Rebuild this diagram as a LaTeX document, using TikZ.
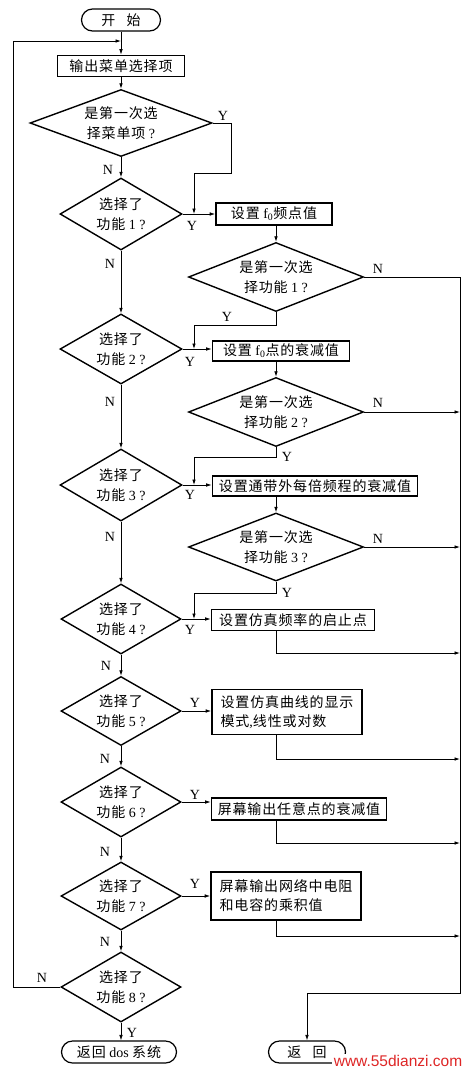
\documentclass[tikz,border=0pt]{standalone}
\usepackage{fontspec}
\setmainfont{Liberation Serif}
\newfontfamily\cjk[LetterSpace=6]{Noto Sans CJK SC}
\newfontfamily\wmfont{Liberation Sans}
\usetikzlibrary{shapes.geometric,shapes.misc,arrows.meta,calc}
\newcommand{\zh}[1]{{\cjk #1}}
\definecolor{wmred}{RGB}{222,38,38}
\begin{document}
\begin{tikzpicture}[x=1pt,y=-1pt,
  every node/.style={font=\fontsize{14}{20}\selectfont},
  line/.style={line width=0.8pt},
  conn/.style={line width=0.8pt,-{Latex[length=5.5pt,width=3.6pt]}},
  dec/.style={draw,diamond,line width=1.4pt,inner sep=0pt},
  dtext/.style={align=center,inner sep=0pt,font=\fontsize{14}{20}\selectfont},
  stepbox/.style={draw,rectangle,line width=1.6pt,inner xsep=4pt,inner ysep=2pt,minimum height=21},
  term/.style={draw,rounded rectangle,line width=1.2pt,minimum height=22,inner sep=2pt},
  lbl/.style={inner sep=0pt,font=\fontsize{14}{16}\selectfont},
  wm/.style={fill=white,text=wmred,inner xsep=2pt,inner ysep=1pt,font=\wmfont\fontsize{15.5}{17}\selectfont}
]
\useasboundingbox (0,0) rectangle (468,1072);
% left column
\node[term,minimum width=83] (start) at (121,20) {\zh{开\hspace{0.8em}始}};
\node[stepbox,minimum width=127] (b0) at (121,66) {\zh{输出菜单选择项}};
\node[dec,minimum width=182,minimum height=67,label={[dtext]center:{\zh{是第一次选}\\\zh{择菜单项} ?}}] (d1) at (121,123) {};
\node[dec,minimum width=122,minimum height=72,label={[dtext]center:{\zh{选择了}\\\zh{功能} 1 ?}}] (d2) at (121,214) {};
\node[dec,minimum width=122,minimum height=70,label={[dtext]center:{\zh{选择了}\\\zh{功能} 2 ?}}] (d4) at (121,349) {};
\node[dec,minimum width=122,minimum height=72,label={[dtext]center:{\zh{选择了}\\\zh{功能} 3 ?}}] (d6) at (121,485) {};
\node[dec,minimum width=120,minimum height=70,label={[dtext]center:{\zh{选择了}\\\zh{功能} 4 ?}}] (d8) at (121,619) {};
\node[dec,minimum width=120,minimum height=69,label={[dtext]center:{\zh{选择了}\\\zh{功能} 5 ?}}] (d9) at (121,711) {};
\node[dec,minimum width=120,minimum height=70,label={[dtext]center:{\zh{选择了}\\\zh{功能} 6 ?}}] (d10) at (121,802) {};
\node[dec,minimum width=120,minimum height=68,label={[dtext]center:{\zh{选择了}\\\zh{功能} 7 ?}}] (d11) at (121,896) {};
\node[dec,minimum width=120,minimum height=70,label={[dtext]center:{\zh{选择了}\\\zh{功能} 8 ?}}] (d12) at (121,987) {};
\node[term,minimum width=119] (end1) at (119,1052) {\zh{返回} dos \zh{系统}};
% right column
\node[stepbox,minimum width=116,minimum height=22] (f1) at (274,214) {\zh{设置} f\textsubscript{0}\zh{频点值}};
\node[dec,minimum width=175,minimum height=69,label={[dtext]center:{\zh{是第一次选}\\\zh{择功能} 1 ?}}] (d3) at (276,277) {};
\node[stepbox,minimum width=137,minimum height=20] (f2) at (281,351) {\zh{设置} f\textsubscript{0}\zh{点的衰减值}};
\node[dec,minimum width=175,minimum height=69,label={[dtext]center:{\zh{是第一次选}\\\zh{择功能} 2 ?}}] (d5) at (276,412) {};
\node[stepbox,minimum width=205,minimum height=20] (f3) at (315,486) {\zh{设置通带外每倍频程的衰减值}};
\node[dec,minimum width=175,minimum height=68,label={[dtext]center:{\zh{是第一次选}\\\zh{择功能} 3 ?}}] (d7) at (276,547) {};
\node[stepbox,minimum width=163] (f4) at (293,620) {\zh{设置仿真频率的启止点}};
\node[stepbox,minimum width=150,minimum height=45,align=left,font=\fontsize{14}{19}\selectfont] (f5) at (287,712) {\zh{设置仿真曲线的显示}\\\zh{模式},\zh{线性或对数}};
\node[stepbox,minimum width=175,minimum height=22] (f6) at (299,809) {\zh{屏幕输出任意点的衰减值}};
\node[stepbox,minimum width=150,minimum height=48,align=left,font=\fontsize{14}{19}\selectfont] (f7) at (286,896) {\zh{屏幕输出网络中电阻}\\\zh{和电容的乘积值}};
\node[term,minimum width=81] (end2) at (307,1052) {\zh{返\hspace{0.8em}回}};
% helper coordinates
\coordinate (jx) at (194,0);
\coordinate (bus) at (460,0);
\coordinate (c1) at (231,173);
\coordinate (c9) at (460,993);
\coordinate (loop) at (13,41);
% main flow
\draw[conn] (start.south) -- (b0.north);
\draw[conn] (b0.south) -- (d1.north);
\draw[conn] (d1.south) -- (d2.north);
\draw[conn] (d1.east) -| (c1) -- (c1 -| jx) -- (d2.east -| jx);
\draw[conn] (d2.east) -- (d2.east -| f1.west);
\draw[conn] (f1.south -| d3.north) -- (d3.north);
\draw[conn] (d3.east) -- (d3.east -| c9) -- (c9) -| (end2.north);
\draw[conn] (d3.south) -- (276,325) -| (d4.east -| jx);
\draw[conn] (d2.south) -- (d4.north);
\draw[conn] (d4.east) -- (d4.east -| f2.west);
\draw[conn] (f2.south -| d5.north) -- (d5.north);
\draw[conn] (d5.east) -- (d5.east -| bus);
\draw[conn] (d5.south) -- (276,457) -| (d6.east -| jx);
\draw[conn] (d4.south) -- (d6.north);
\draw[conn] (d6.east) -- (d6.east -| f3.west);
\draw[conn] (f3.south -| d7.north) -- (d7.north);
\draw[conn] (d7.east) -- (d7.east -| bus);
\draw[conn] (d7.south) -- (276,593) -| (d8.east -| jx);
\draw[conn] (d6.south) -- (d8.north);
\draw[conn] (d8.east) -- (d8.east -| f4.west);
\draw[conn] (f4.south -| d7.south) |- (460,653);
\draw[conn] (d8.south) -- (d9.north);
\draw[conn] (d9.east) -- (d9.east -| f5.west);
\draw[conn] (f5.south -| d7.south) |- (460,759);
\draw[conn] (d9.south) -- (d10.north);
\draw[conn] (d10.east) -- (d10.east -| f6.west);
\draw[conn] (f6.south -| d7.south) |- (460,843);
\draw[conn] (d10.south) -- (d11.north);
\draw[conn] (d11.east) -- (d11.east -| f7.west);
\draw[conn] (f7.south -| d7.south) |- (460,936);
\draw[conn] (d11.south) -- (d12.north);
\draw[conn] (d12.west) -| (loop) -- (loop -| b0.north);
\draw[conn] (d12.south) -- (d12.south |- end1.north);
% labels
\node[lbl] (y1) at (223,116) {Y};
\node[lbl] (n1) at (108,170) {N};
\node[lbl] (y2) at (192,226) {Y};
\node[lbl] (n3) at (378,269) {N};
\node[lbl] (y3) at (227,317) {Y};
\node[lbl] (n2) at (110,264) {N};
\node[lbl] (y4) at (190,362) {Y};
\node[lbl] (n5) at (378,403) {N};
\node[lbl] (y5) at (287,457) {Y};
\node[lbl] (n4) at (110,402) {N};
\node[lbl] (y6) at (190,495) {Y};
\node[lbl] (n7) at (378,539) {N};
\node[lbl] (y7) at (287,593) {Y};
\node[lbl] (n6) at (110,537) {N};
\node[lbl] (y8) at (190,630) {Y};
\node[lbl] (n8) at (106,666) {N};
\node[lbl] (y9) at (195,703) {Y};
\node[lbl] (n9) at (105,759) {N};
\node[lbl] (y10) at (195,795) {Y};
\node[lbl] (n10) at (105,852) {N};
\node[lbl] (y11) at (195,884) {Y};
\node[lbl] (n11) at (105,942) {N};
\node[lbl] (n12) at (42,978) {N};
\node[lbl] (y12) at (132,1033) {Y};
\node[wm] (wmark) at (398,1061) {www.55dianzi.com};
\end{tikzpicture}
\end{document}
